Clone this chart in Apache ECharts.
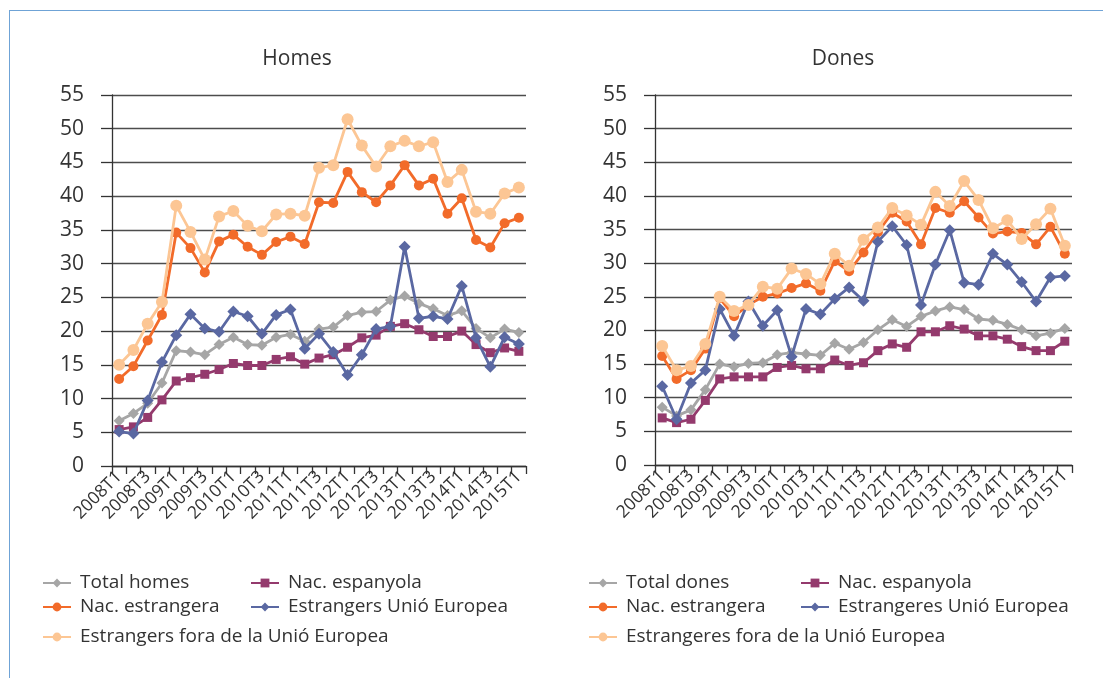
<!DOCTYPE html>
<html><head><meta charset="utf-8">
<script src="https://cdn.jsdelivr.net/npm/echarts@6/dist/echarts.min.js"></script>
<style>
html,body{margin:0;padding:0;background:#fff;}
#frame{position:absolute;left:9px;top:10px;width:1200px;height:800px;border-left:1.5px solid #6fa3d6;border-top:1.5px solid #6fa3d6;}
#c{position:absolute;left:0;top:0;width:1103px;height:678px;}
</style></head>
<body>
<div id="frame"></div>
<div id="c"></div>
<script>
const categories = ['2008T1','2008T2','2008T3','2008T4','2009T1','2009T2','2009T3','2009T4','2010T1','2010T2','2010T3','2010T4','2011T1','2011T2','2011T3','2011T4','2012T1','2012T2','2012T3','2012T4','2013T1','2013T2','2013T3','2013T4','2014T1','2014T2','2014T3','2014T4','2015T1'];

// Homes
const totalHomes   = [6.7,7.8,9.3,12.3,17.1,16.9,16.5,18.0,19.1,18.0,17.9,19.1,19.5,18.5,20.3,20.6,22.3,22.8,22.9,24.6,25.2,24.1,23.3,22.3,23.0,20.4,19.0,20.3,19.8];
const espHomes     = [5.4,5.8,7.2,9.8,12.6,13.1,13.6,14.3,15.2,14.9,14.9,15.8,16.2,15.1,16.0,16.5,17.6,19.0,19.4,20.7,21.1,20.2,19.2,19.2,20.0,18.0,16.8,17.5,17.0];
const estrHomes    = [12.9,14.8,18.6,22.4,34.6,32.3,28.7,33.3,34.3,32.5,31.3,33.2,34.0,32.9,39.1,39.0,43.6,40.6,39.1,41.6,44.6,41.6,42.6,37.4,39.7,33.5,32.4,36.0,36.8];
const ueHomes      = [5.1,4.8,9.7,15.4,19.4,22.5,20.4,19.9,22.9,22.2,19.6,22.4,23.2,17.4,19.6,16.9,13.5,16.5,20.3,20.7,32.5,21.9,22.2,21.8,26.7,19.0,14.7,19.1,18.1];
const foraHomes    = [15.0,17.2,21.1,24.3,38.6,34.7,30.6,37.0,37.8,35.6,34.8,37.3,37.4,37.1,44.2,44.6,51.4,47.5,44.4,47.4,48.2,47.4,48.0,42.1,43.9,37.7,37.4,40.4,41.3];

// Dones
const totalDones   = [8.6,7.3,8.2,11.2,15.0,14.6,15.1,15.2,16.4,16.7,16.5,16.3,18.1,17.2,18.2,20.1,21.6,20.6,22.1,22.9,23.5,23.1,21.7,21.5,20.9,20.1,19.2,19.6,20.3];
const espDones     = [7.0,6.3,6.8,9.6,12.8,13.1,13.1,13.1,14.5,14.8,14.3,14.3,15.6,14.8,15.2,17.0,18.0,17.5,19.8,19.8,20.7,20.2,19.2,19.2,18.7,17.6,17.0,17.0,18.4];
const estrDones    = [16.2,12.8,14.1,17.3,24.8,22.1,23.8,25.0,25.5,26.3,27.0,25.9,30.3,28.8,31.6,34.6,37.5,36.2,32.8,38.2,37.5,39.2,36.8,34.4,34.7,34.5,32.8,35.4,31.4];
const ueDones      = [11.7,6.8,12.2,14.1,23.2,19.2,24.3,20.7,23.0,16.1,23.2,22.4,24.7,26.4,24.4,33.2,35.5,32.7,23.8,29.8,34.9,27.1,26.8,31.4,29.8,27.2,24.3,27.9,28.1];
const foraDones    = [17.7,14.1,14.7,18.0,25.0,22.9,23.8,26.5,26.2,29.2,28.4,26.9,31.4,29.6,33.5,35.3,38.2,37.1,35.7,40.6,38.5,42.2,39.4,35.2,36.4,33.6,35.8,38.1,32.6];

const panelTitles = ['Homes','Dones'];
const namesHomes = ['Total homes','Nac. espanyola','Nac. estrangera','Estrangers Unió Europea','Estrangers fora de la Unió Europea'];
const namesDones = ['Total dones','Nac. espanyola','Nac. estrangera','Estrangeres Unió Europea','Estrangeres fora de la Unió Europea'];

const FONT = '"Open Sans", "Noto Sans", sans-serif';
const styles = [
  {color:'#a6a6a6', symbol:'diamond', size:11},
  {color:'#943a6d', symbol:'rect', size:9},
  {color:'#f26b2a', symbol:'circle', size:10},
  {color:'#5a68a2', symbol:'diamond', size:12},
  {color:'#fcc694', symbol:'circle', size:12}
];

function mkSeries(names, datas, idx){
  return datas.map((d,i)=>({
    name:names[i], type:'line', xAxisIndex:idx, yAxisIndex:idx, data:d,
    symbol:styles[i].symbol, symbolSize:styles[i].size, showSymbol:true, showAllSymbol:true,
    itemStyle:{color:styles[i].color},
    lineStyle:{color:styles[i].color, width:2.8},
    z: 2+i, animation:false
  }));
}

function xAxis(idx){
  return {type:'category', gridIndex:idx, data:categories, boundaryGap:true,
    axisLine:{lineStyle:{color:'#333', width:1.3}},
    axisTick:{show:true, length:8, interval:0, lineStyle:{color:'#333', width:1.3}},
    axisLabel:{interval:1, rotate:45, fontSize:17.5, color:'#333', fontFamily:FONT, margin:8},
    splitLine:{show:false}};
}
function yAxis(idx){
  return {type:'value', gridIndex:idx, min:0, max:55, interval:5,
    axisLine:{show:true, lineStyle:{color:'#333', width:1.3}},
    axisTick:{show:true, length:11, lineStyle:{color:'#333', width:1.3}},
    axisLabel:{fontSize:21, color:'#333', fontFamily:FONT, margin:28},
    splitLine:{show:true, lineStyle:{color:'#4d4d4d', width:1.3}}};
}

// legend layout: [left, top center]
const legPosH = [[42,583],[250,583],[42,607],[250,607],[42,637]];
const legPosD = [[588,583],[800,583],[588,607],[800,607],[588,637]];
const legends = [];
function addLegends(names, pos){
  names.forEach((n,i)=>{
    legends.push({data:[n], left:pos[i][0], top:pos[i][1]-11, padding:0, itemWidth:28, itemHeight:11,
      itemGap:0, selectedMode:false,
      textStyle:{fontSize:19, color:'#333', fontFamily:FONT, padding:[0,0,0,4], lineHeight:22}});
  });
}
addLegends(namesHomes, legPosH);
addLegends(namesDones, legPosD);

const chart = echarts.init(document.getElementById('c'), null, {renderer:'canvas'});
chart.setOption({
  backgroundColor:'transparent',
  animation:false,
  title:[
    {text:panelTitles[0], left:292, top:44, textAlign:'center', textStyle:{fontSize:21, fontWeight:'normal', color:'#333', fontFamily:FONT}},
    {text:panelTitles[1], left:838, top:44, textAlign:'center', textStyle:{fontSize:21, fontWeight:'normal', color:'#333', fontFamily:FONT}}
  ],
  grid:[
    {left:112, top:95, width:414, height:371},
    {left:655, top:95, width:417, height:370}
  ],
  xAxis:[xAxis(0), xAxis(1)],
  yAxis:[yAxis(0), yAxis(1)],
  legend:legends,
  series:[].concat(
    mkSeries(namesHomes,[totalHomes,espHomes,estrHomes,ueHomes,foraHomes],0),
    mkSeries(namesDones,[totalDones,espDones,estrDones,ueDones,foraDones],1)
  )
});
</script>
</body></html>
